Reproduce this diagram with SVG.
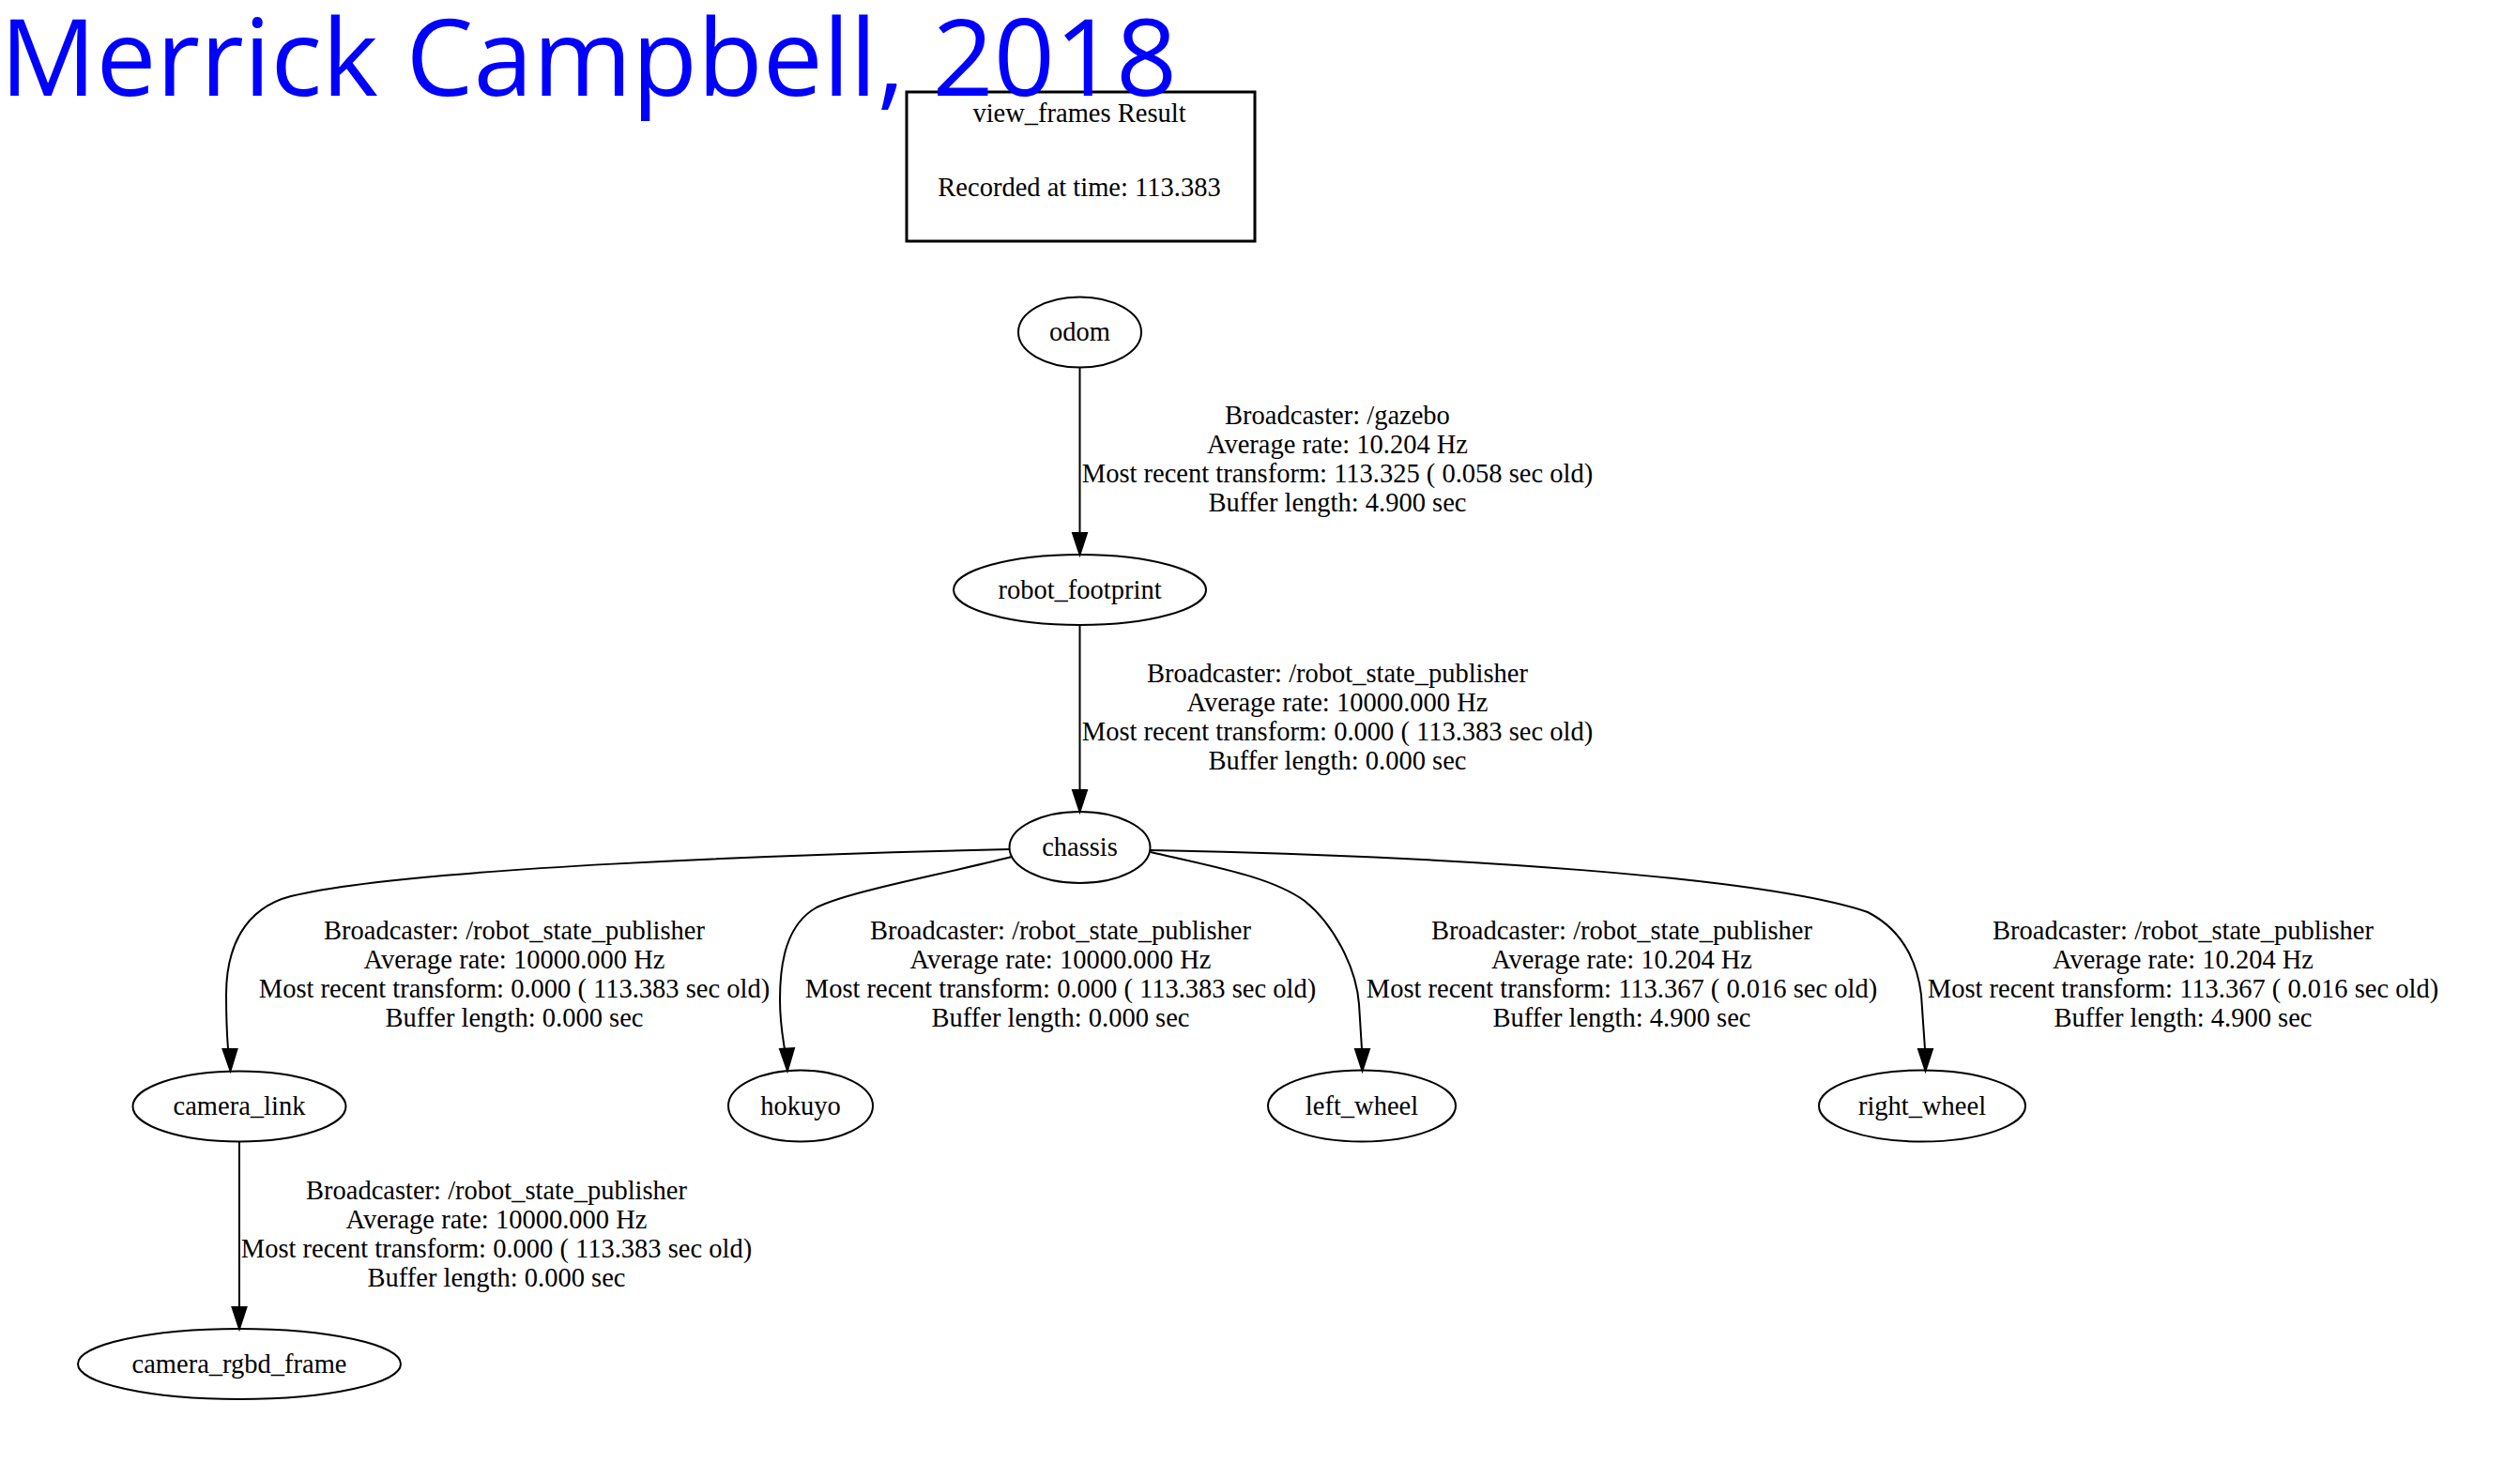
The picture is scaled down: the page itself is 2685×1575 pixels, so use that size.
<svg xmlns="http://www.w3.org/2000/svg" width="2685" height="1575" viewBox="0 0 2685 1575">
<style>
.bg{fill:#ffffff}
.node ellipse{fill:none;stroke:#000;stroke-width:2}
.t{font-family:"Liberation Serif","Times New Roman",serif;font-size:28.5px;fill:#000;text-anchor:middle}
.edge path{fill:none;stroke:#000;stroke-width:2}
.edge polygon{fill:#000;stroke:#000;stroke-width:2}
.title{font-family:"Open Sans","Noto Sans",sans-serif;font-size:114px;fill:#0000ff}
</style>
<rect class="bg" x="0" y="0" width="2685" height="1575"/>

<g id="header">
<rect x="966" y="98" width="371" height="159" fill="none" stroke="#000" stroke-width="3"/>
<text class="t" x="1150" y="130">view_frames Result</text>
<text class="t" x="1150" y="209">Recorded at time: 113.383</text>
</g>

<g id="connectors" class="edge">
<g id="e-odom-robot_footprint">
<path d="M1150.5,391 L1150.5,568"/>
<polygon points="1150.5,591 1143,568 1158,568"/>
<text class="t" x="1425" y="452">Broadcaster: /gazebo</text>
<text class="t" x="1425" y="483">Average rate: 10.204 Hz</text>
<text class="t" x="1425" y="514">Most recent transform: 113.325 ( 0.058 sec old)</text>
<text class="t" x="1425" y="545">Buffer length: 4.900 sec</text>
</g>
<g id="e-robot_footprint-chassis">
<path d="M1150.5,666 L1150.5,842"/>
<polygon points="1150.5,865 1143,842 1158,842"/>
<text class="t" x="1425" y="727">Broadcaster: /robot_state_publisher</text>
<text class="t" x="1425" y="758">Average rate: 10000.000 Hz</text>
<text class="t" x="1425" y="789">Most recent transform: 0.000 ( 113.383 sec old)</text>
<text class="t" x="1425" y="820">Buffer length: 0.000 sec</text>
</g>
<g id="e-chassis-camera_link">
<path d="M1076,905 C850,910 430,925 310,955 C260,968 241,1010 241,1060 C241,1090 242,1105 243,1118"/>
<polygon points="245.5,1141 237.5,1118 252.5,1118"/>
<text class="t" x="548" y="1001">Broadcaster: /robot_state_publisher</text>
<text class="t" x="548" y="1032">Average rate: 10000.000 Hz</text>
<text class="t" x="548" y="1063">Most recent transform: 0.000 ( 113.383 sec old)</text>
<text class="t" x="548" y="1094">Buffer length: 0.000 sec</text>
</g>
<g id="e-chassis-hokuyo">
<path d="M1078,913 C990,935 905,950 870,967 C838,985 831,1025 831,1065 C831,1090 834,1105 836,1118"/>
<polygon points="839,1141 831,1118 846,1117"/>
<text class="t" x="1130" y="1001">Broadcaster: /robot_state_publisher</text>
<text class="t" x="1130" y="1032">Average rate: 10000.000 Hz</text>
<text class="t" x="1130" y="1063">Most recent transform: 0.000 ( 113.383 sec old)</text>
<text class="t" x="1130" y="1094">Buffer length: 0.000 sec</text>
</g>
<g id="e-chassis-left_wheel">
<path d="M1226,908 C1300,925 1355,935 1390,960 C1420,984 1445,1030 1448,1070 L1451,1118"/>
<polygon points="1451.5,1141 1444,1118 1459,1118"/>
<text class="t" x="1728" y="1001">Broadcaster: /robot_state_publisher</text>
<text class="t" x="1728" y="1032">Average rate: 10.204 Hz</text>
<text class="t" x="1728" y="1063">Most recent transform: 113.367 ( 0.016 sec old)</text>
<text class="t" x="1728" y="1094">Buffer length: 4.900 sec</text>
</g>
<g id="e-chassis-right_wheel">
<path d="M1226,906 C1550,912 1880,935 1990,972 C2025,990 2042,1020 2047,1060 L2051,1118"/>
<polygon points="2051.5,1141 2044,1118 2059,1118"/>
<text class="t" x="2326" y="1001">Broadcaster: /robot_state_publisher</text>
<text class="t" x="2326" y="1032">Average rate: 10.204 Hz</text>
<text class="t" x="2326" y="1063">Most recent transform: 113.367 ( 0.016 sec old)</text>
<text class="t" x="2326" y="1094">Buffer length: 4.900 sec</text>
</g>
<g id="e-camera_link-camera_rgbd_frame">
<path d="M255,1216.5 L255,1393"/>
<polygon points="255,1416 247.5,1393 262.5,1393"/>
<text class="t" x="529" y="1278">Broadcaster: /robot_state_publisher</text>
<text class="t" x="529" y="1309">Average rate: 10000.000 Hz</text>
<text class="t" x="529" y="1340">Most recent transform: 0.000 ( 113.383 sec old)</text>
<text class="t" x="529" y="1371">Buffer length: 0.000 sec</text>
</g>
</g>

<g id="odom" class="node"><ellipse cx="1150.5" cy="354" rx="65.5" ry="37.5"/><text class="t" x="1150.5" y="363">odom</text></g>
<g id="robot_footprint" class="node"><ellipse cx="1150.5" cy="628.5" rx="134.5" ry="37.5"/><text class="t" x="1150.5" y="637.5">robot_footprint</text></g>
<g id="chassis" class="node"><ellipse cx="1150.5" cy="903" rx="75" ry="38"/><text class="t" x="1150.5" y="912">chassis</text></g>
<g id="camera_link" class="node"><ellipse cx="255" cy="1179" rx="113.5" ry="37.5"/><text class="t" x="255" y="1188">camera_link</text></g>
<g id="hokuyo" class="node"><ellipse cx="853" cy="1178.5" rx="77" ry="38"/><text class="t" x="853" y="1187.5">hokuyo</text></g>
<g id="left_wheel" class="node"><ellipse cx="1451" cy="1178.5" rx="100" ry="38"/><text class="t" x="1451" y="1187.5">left_wheel</text></g>
<g id="right_wheel" class="node"><ellipse cx="2048" cy="1178.5" rx="110" ry="38"/><text class="t" x="2048" y="1187.5">right_wheel</text></g>
<g id="camera_rgbd_frame" class="node"><ellipse cx="255" cy="1453.5" rx="172" ry="37.5"/><text class="t" x="255" y="1462.5">camera_rgbd_frame</text></g>

<text class="title" x="0" y="102">Merrick Campbell, 2018</text>
</svg>
